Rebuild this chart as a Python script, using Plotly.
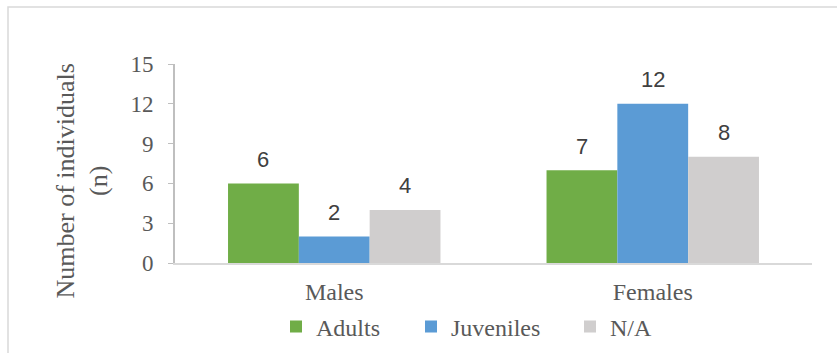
import plotly.graph_objects as go

# Categories and counts per life stage
categories = ["Males", "Females"]
adults = [6, 7]
juveniles = [2, 12]
unknown = [4, 8]

series_names = ["Adults", "Juveniles", "N/A"]
series_values = [adults, juveniles, unknown]
series_colors = ["#70AD47", "#5B9BD5", "#D0CECE"]

y_ticks = [0, 3, 6, 9, 12, 15]

W, H = 837, 353
M_L, M_R, M_T, M_B = 175, 25, 64, 90
plot_w = W - M_L - M_R
plot_h = H - M_T - M_B

BARGAP = 0.333
serif = "Liberation Serif"
sans = "Liberation Sans"

fig = go.Figure()
legend_ids = ["legend", "legend2", "legend3"]
for name, vals, color, lg in zip(series_names, series_values, series_colors, legend_ids):
    fig.add_trace(go.Bar(
        name=name, x=categories, y=vals,
        marker=dict(color=color, line=dict(width=0)),
        legend=lg,
    ))

# value labels above each bar, placed from the bar layout
n = len(series_names)
bar_w = (1 - BARGAP) / n
annotations = []
for i, vals in enumerate(series_values):
    offset = (i - (n - 1) / 2) * bar_w
    for ci, v in enumerate(vals):
        annotations.append(dict(
            x=ci + offset, y=v, xref="x", yref="y",
            text=str(v), showarrow=False,
            xanchor="center", yanchor="middle", yshift=24,
            font=dict(family=sans, size=22, color="#404040"),
        ))

def px_x(p):
    return (p - M_L) / plot_w

def px_y(p):
    return (M_T + plot_h - p) / plot_h

# axis title
annotations.append(dict(
    x=px_x(82), y=px_y(180.5),
    xref="paper", yref="paper",
    text="Number of individuals<br>(n)", showarrow=False,
    textangle=-90, xanchor="center", yanchor="middle",
    font=dict(family=serif, size=26, color="#595959"),
))

legend_style = dict(
    orientation="h", xanchor="left", yanchor="middle",
    xref="container", yref="container",
    font=dict(family=serif, size=24, color="#595959"),
    bgcolor="rgba(0,0,0,0)", borderwidth=0,
)
legend_square_x = [296, 431, 590]
layout_legends = {}
for lg, sx in zip(legend_ids, legend_square_x):
    layout_legends[lg] = dict(legend_style, x=(sx - 20) / W, y=1 - 327 / H)

fig.update_layout(
    width=W, height=H,
    margin=dict(l=M_L, r=M_R, t=M_T, b=M_B, autoexpand=False),
    paper_bgcolor="white", plot_bgcolor="white",
    barmode="group", bargap=BARGAP, bargroupgap=0,
    showlegend=True,
    annotations=annotations,
    xaxis=dict(
        showline=True, linecolor="#D9D9D9", linewidth=2,
        showgrid=False, ticks="", ticklabelstandoff=6,
        tickfont=dict(family=serif, size=24, color="#595959"),
        fixedrange=True,
    ),
    yaxis=dict(
        range=[0, 15], tickvals=y_ticks,
        showline=True, linecolor="#BFBFBF", linewidth=2,
        showgrid=False, zeroline=False,
        ticks="outside", ticklen=5, tickcolor="#BFBFBF", tickwidth=1,
        ticklabelstandoff=10,
        tickfont=dict(family=serif, size=23, color="#595959"),
        fixedrange=True,
    ),
    shapes=[dict(
        type="rect", xref="paper", yref="paper",
        x0=px_x(8), x1=px_x(845), y0=px_y(360), y1=px_y(7),
        line=dict(color="#D9D9D9", width=1.5), fillcolor="rgba(0,0,0,0)",
        layer="below",
    )],
    **layout_legends,
)

fig.write_html("out.html")
